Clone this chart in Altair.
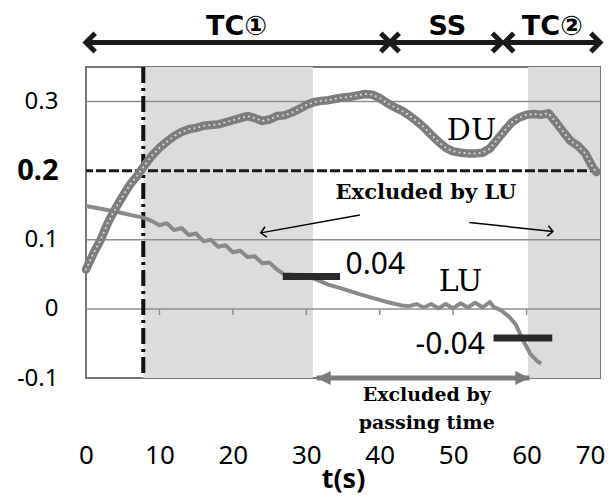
import math
import altair as alt
import pandas as pd

# ---------------- data ----------------
t_du = [0, 1, 2, 3, 4, 5, 6, 7, 8, 9, 10, 11, 12, 13, 14, 15, 16, 17, 18, 19, 20,
        21, 22, 23, 24, 25, 26, 27, 28, 29, 30, 31, 32, 33, 34, 35, 36, 37, 38, 39,
        40, 41, 42, 43, 44, 45, 46, 47, 48, 49, 50, 51, 52, 53, 54, 55, 56, 57, 58,
        59, 60, 61, 62, 63, 64, 65, 66, 67, 68, 69, 69.5]
v_du = [0.057, 0.080, 0.100, 0.125, 0.145, 0.163, 0.180, 0.193, 0.208, 0.222, 0.233,
        0.242, 0.250, 0.256, 0.260, 0.262, 0.265, 0.266, 0.267, 0.270, 0.273, 0.276,
        0.279, 0.276, 0.272, 0.274, 0.279, 0.280, 0.284, 0.289, 0.295, 0.299, 0.301,
        0.302, 0.304, 0.306, 0.307, 0.309, 0.311, 0.310, 0.305, 0.298, 0.292, 0.287,
        0.280, 0.272, 0.263, 0.252, 0.242, 0.233, 0.228, 0.226, 0.225, 0.225, 0.226,
        0.232, 0.245, 0.258, 0.270, 0.277, 0.281, 0.282, 0.281, 0.283, 0.270, 0.256,
        0.243, 0.236, 0.225, 0.205, 0.198]

t_lu = [0, 2, 4, 6, 7.8, 9, 10, 11, 12, 13, 14, 15, 16, 17, 18, 19, 20, 21, 22, 23,
        24, 25, 26, 27, 29, 31, 33, 35, 37, 39, 41, 43, 44, 45, 46, 47, 48, 49, 50,
        51, 52, 53, 54, 55, 55.5, 56.5, 57.5, 58.5, 59.5, 60.5, 61.5, 62]
v_lu = [0.149, 0.145, 0.141, 0.136, 0.132, 0.127, 0.121, 0.124, 0.114, 0.117, 0.107,
        0.109, 0.098, 0.100, 0.090, 0.092, 0.082, 0.084, 0.075, 0.076, 0.066, 0.067,
        0.057, 0.050, 0.049, 0.044, 0.035, 0.029, 0.022, 0.016, 0.010, 0.005, 0.004,
        0.007, 0.002, 0.007, 0.001, 0.007, 0.001, 0.008, 0.002, 0.009, 0.002, 0.010,
        0.003, -0.002, -0.010, -0.022, -0.045, -0.065, -0.076, -0.079]

shade_start = [7.8, 60.2]
shade_end = [30.9, 70]
grid_y = [0.3, 0.1, 0.0]
threshold_y = [0.2]
onset_t = [7.8]
zero_tick_t = [10, 20, 30, 40, 50, 60]

marker_t0 = [26.8, 55.5]
marker_t1 = [34.6, 63.5]
marker_v = [0.047, -0.042]
marker_text = ["0.04", "-0.04"]
marker_text_t = [39.4, 49.6]
marker_text_v = [0.064, -0.052]

curve_names = ["DU", "LU"]
curve_name_t = [52.5, 51.0]
curve_name_v = [0.257, 0.039]

phase_names = ["TC\u2460", "SS", "TC\u2461"]
phase_start = [0, 41.4, 57.0]
phase_end = [41.4, 56.6, 70]
phase_label_t = [20.5, 49.2, 63.5]
phase_arrow_v = 0.3855
phase_label_v = 0.397   # text baseline

lu_note = "Excluded by LU"
lu_note_t, lu_note_v = 46.3, 0.168
lu_arrow_from_t = [37.3, 52.2]
lu_arrow_from_v = [0.136, 0.125]
lu_arrow_to_t = [23.8, 63.6]
lu_arrow_to_v = [0.110, 0.112]

pass_note = ["Excluded by", "passing time"]
pass_note_t = [46.4, 46.4]
pass_note_v = [-0.125, -0.165]
pass_arrow_t = [31.4, 60.4]
pass_arrow_v = -0.1

# ---------------- chart ----------------
W, H = 514, 311
X_DOM, Y_DOM = [0, 70], [-0.1, 0.35]
xs = alt.Scale(domain=X_DOM, nice=False, zero=False)
ys = alt.Scale(domain=Y_DOM, nice=False, zero=False)

x_axis = alt.Axis(values=list(range(0, 71, 10)), title="t(s)", grid=False, ticks=False,
                  tickSize=0, domain=False, labelPadding=64, labelFontSize=26,
                  labelFont="Noto Sans", labelColor="black", labelFlush=False,
                  labelOverlap=False,
                  labelAlign={"condition": {"test": "datum.value == 70", "value": "right"}, "value": "center"},
                  labelOffset={"condition": {"test": "datum.value == 70", "value": 5}, "value": 0},
                  titleFont="Noto Sans", titleFontSize=27,
                  titleFontWeight="bold", titleColor="black", titlePadding=-2)
y_axis = alt.Axis(values=[-0.1, 0, 0.1, 0.2, 0.3], title=None, grid=False, ticks=False,
                  tickSize=0, domain=False, labelPadding=28, labelFont="Noto Sans",
                  labelColor="black", labelFlush=False, labelOverlap=False,
                  labelFontSize={"condition": {"test": "abs(datum.value-0.2)<1e-6", "value": 29}, "value": 24},
                  labelFontWeight={"condition": {"test": "abs(datum.value-0.2)<1e-6", "value": "bold"}, "value": "normal"},
                  labelExpr="datum.value < 0 ? '-' + format(-datum.value, '.1f') : (datum.value == 0 ? '0' : format(datum.value, '.1f'))")


def X(f):
    return alt.X(f"{f}:Q", scale=xs, axis=x_axis)


def Y(f):
    return alt.Y(f"{f}:Q", scale=ys, axis=y_axis)


layers = []

shade = pd.DataFrame({"a": shade_start, "b": shade_end})
layers.append(alt.Chart(shade).mark_rect(color="#dcdcdc").encode(x=X("a"), x2="b"))

grid = pd.DataFrame({"y": grid_y})
layers.append(alt.Chart(grid).mark_rule(color="#8f8f8f", strokeWidth=1.5).encode(y=Y("y")))

zt = pd.DataFrame({"t": zero_tick_t, "y0": [0.0] * len(zero_tick_t), "y1": [-0.009] * len(zero_tick_t)})
layers.append(alt.Chart(zt).mark_rule(color="#8f8f8f", strokeWidth=1.5).encode(x=X("t"), y=Y("y0"), y2="y1"))

thr = pd.DataFrame({"y": threshold_y})
layers.append(alt.Chart(thr).mark_rule(color="#1a1a1a", strokeWidth=3, strokeDash=[10, 3]).encode(y=Y("y")))

on = pd.DataFrame({"t": onset_t})
layers.append(alt.Chart(on).mark_rule(color="#111111", strokeWidth=4, strokeDash=[16, 5, 3, 5]).encode(x=X("t")))

lu = pd.DataFrame({"t": t_lu, "v": v_lu})
layers.append(alt.Chart(lu).mark_line(color="#8a8a8a", strokeWidth=4, strokeJoin="round").encode(x=X("t"), y=Y("v"), order="t:Q"))

du = pd.DataFrame({"t": t_du, "v": v_du})
layers.append(alt.Chart(du).mark_line(color="#7d7d7d", strokeWidth=8.5, strokeJoin="round", strokeCap="round").encode(x=X("t"), y=Y("v"), order="t:Q"))
layers.append(alt.Chart(du).mark_line(color="white", opacity=0.7, strokeWidth=2, strokeCap="round", strokeDash=[0.1, 5]).encode(x=X("t"), y=Y("v"), order="t:Q"))

mk = pd.DataFrame({"a": marker_t0, "b": marker_t1, "v": marker_v})
layers.append(alt.Chart(mk).mark_rule(color="#2a2a2a", strokeWidth=7).encode(x=X("a"), x2="b", y=Y("v")))

mt = pd.DataFrame({"t": marker_text_t, "v": marker_text_v, "s": marker_text})
layers.append(alt.Chart(mt).mark_text(font="Noto Sans", fontSize=30, color="black").encode(x=X("t"), y=Y("v"), text="s:N"))

cn = pd.DataFrame({"t": curve_name_t, "v": curve_name_v, "s": curve_names})
layers.append(alt.Chart(cn).mark_text(font="DejaVu Serif", fontSize=30, color="black").encode(x=X("t"), y=Y("v"), text="s:N"))

# phase arrows on top
ph = pd.DataFrame({"a": phase_start, "b": phase_end, "v": [phase_arrow_v] * 3,
                   "lt": phase_label_t, "lv": [phase_label_v] * 3, "s": phase_names})
layers.append(alt.Chart(ph).mark_rule(color="#1a1a1a", strokeWidth=5).encode(x=X("a"), x2="b", y=Y("v")))
layers.append(alt.Chart(ph).mark_point(shape="M1,-1L0,0L1,1", filled=False, size=340, strokeWidth=5, color="#1a1a1a", opacity=1).encode(x=X("a"), y=Y("v")))
layers.append(alt.Chart(ph).mark_point(shape="M-1,-1L0,0L-1,1", filled=False, size=340, strokeWidth=5, color="#1a1a1a", opacity=1).encode(x=X("b"), y=Y("v")))
layers.append(alt.Chart(ph).mark_text(font="DejaVu Sans", fontSize=27, fontWeight="bold", baseline="alphabetic", color="black").encode(x=X("lt"), y=Y("lv"), text="s:N"))

# "Excluded by LU" note with two thin arrows
px_t = W / (X_DOM[1] - X_DOM[0])
px_v = H / (Y_DOM[1] - Y_DOM[0])
angles = [math.degrees(math.atan2(-(v1 - v0) * px_v, (t1 - t0) * px_t))
          for t0, v0, t1, v1 in zip(lu_arrow_from_t, lu_arrow_from_v, lu_arrow_to_t, lu_arrow_to_v)]
la = pd.DataFrame({"t0": lu_arrow_from_t, "v0": lu_arrow_from_v, "t1": lu_arrow_to_t,
                   "v1": lu_arrow_to_v, "ang": angles})
layers.append(alt.Chart(la).mark_rule(color="black", strokeWidth=1.5).encode(x=X("t0"), y=Y("v0"), x2="t1", y2="v1"))
layers.append(alt.Chart(la).mark_point(shape="M-1,-1L0,0L-1,1", filled=False, size=110, strokeWidth=1.5, color="black", opacity=1).encode(
    x=X("t1"), y=Y("v1"), angle=alt.Angle("ang:Q", scale=alt.Scale(domain=[0, 360], range=[0, 360]))))
ln = pd.DataFrame({"t": [lu_note_t], "v": [lu_note_v], "s": [lu_note]})
layers.append(alt.Chart(ln).mark_text(font="DejaVu Serif", fontWeight="bold", fontSize=21, color="black").encode(x=X("t"), y=Y("v"), text="s:N"))

# "Excluded by passing time" gray double arrow
pa = pd.DataFrame({"a": [pass_arrow_t[0]], "b": [pass_arrow_t[1]], "v": [pass_arrow_v]})
layers.append(alt.Chart(pa).mark_rule(color="#7a7a7a", strokeWidth=5).encode(x=X("a"), x2="b", y=Y("v")))
layers.append(alt.Chart(pa).mark_point(shape="M0,0L2,-1L2,1Z", filled=True, size=200, color="#7a7a7a", opacity=1).encode(x=X("a"), y=Y("v")))
layers.append(alt.Chart(pa).mark_point(shape="M0,0L-2,-1L-2,1Z", filled=True, size=200, color="#7a7a7a", opacity=1).encode(x=X("b"), y=Y("v")))
pn = pd.DataFrame({"t": pass_note_t, "v": pass_note_v, "s": pass_note})
layers.append(alt.Chart(pn).mark_text(font="DejaVu Serif", fontWeight="bold", fontSize=19, color="black").encode(x=X("t"), y=Y("v"), text="s:N"))

chart = alt.layer(*layers).properties(
    width=W, height=H,
    padding={"left": 78, "top": 59, "right": 6, "bottom": 116},
    autosize=alt.AutoSizeParams(type="none"),
    background="white",
).configure_view(stroke="#777777", strokeWidth=2)

chart.save("out.html", embed_options={"renderer": "svg", "actions": False})
